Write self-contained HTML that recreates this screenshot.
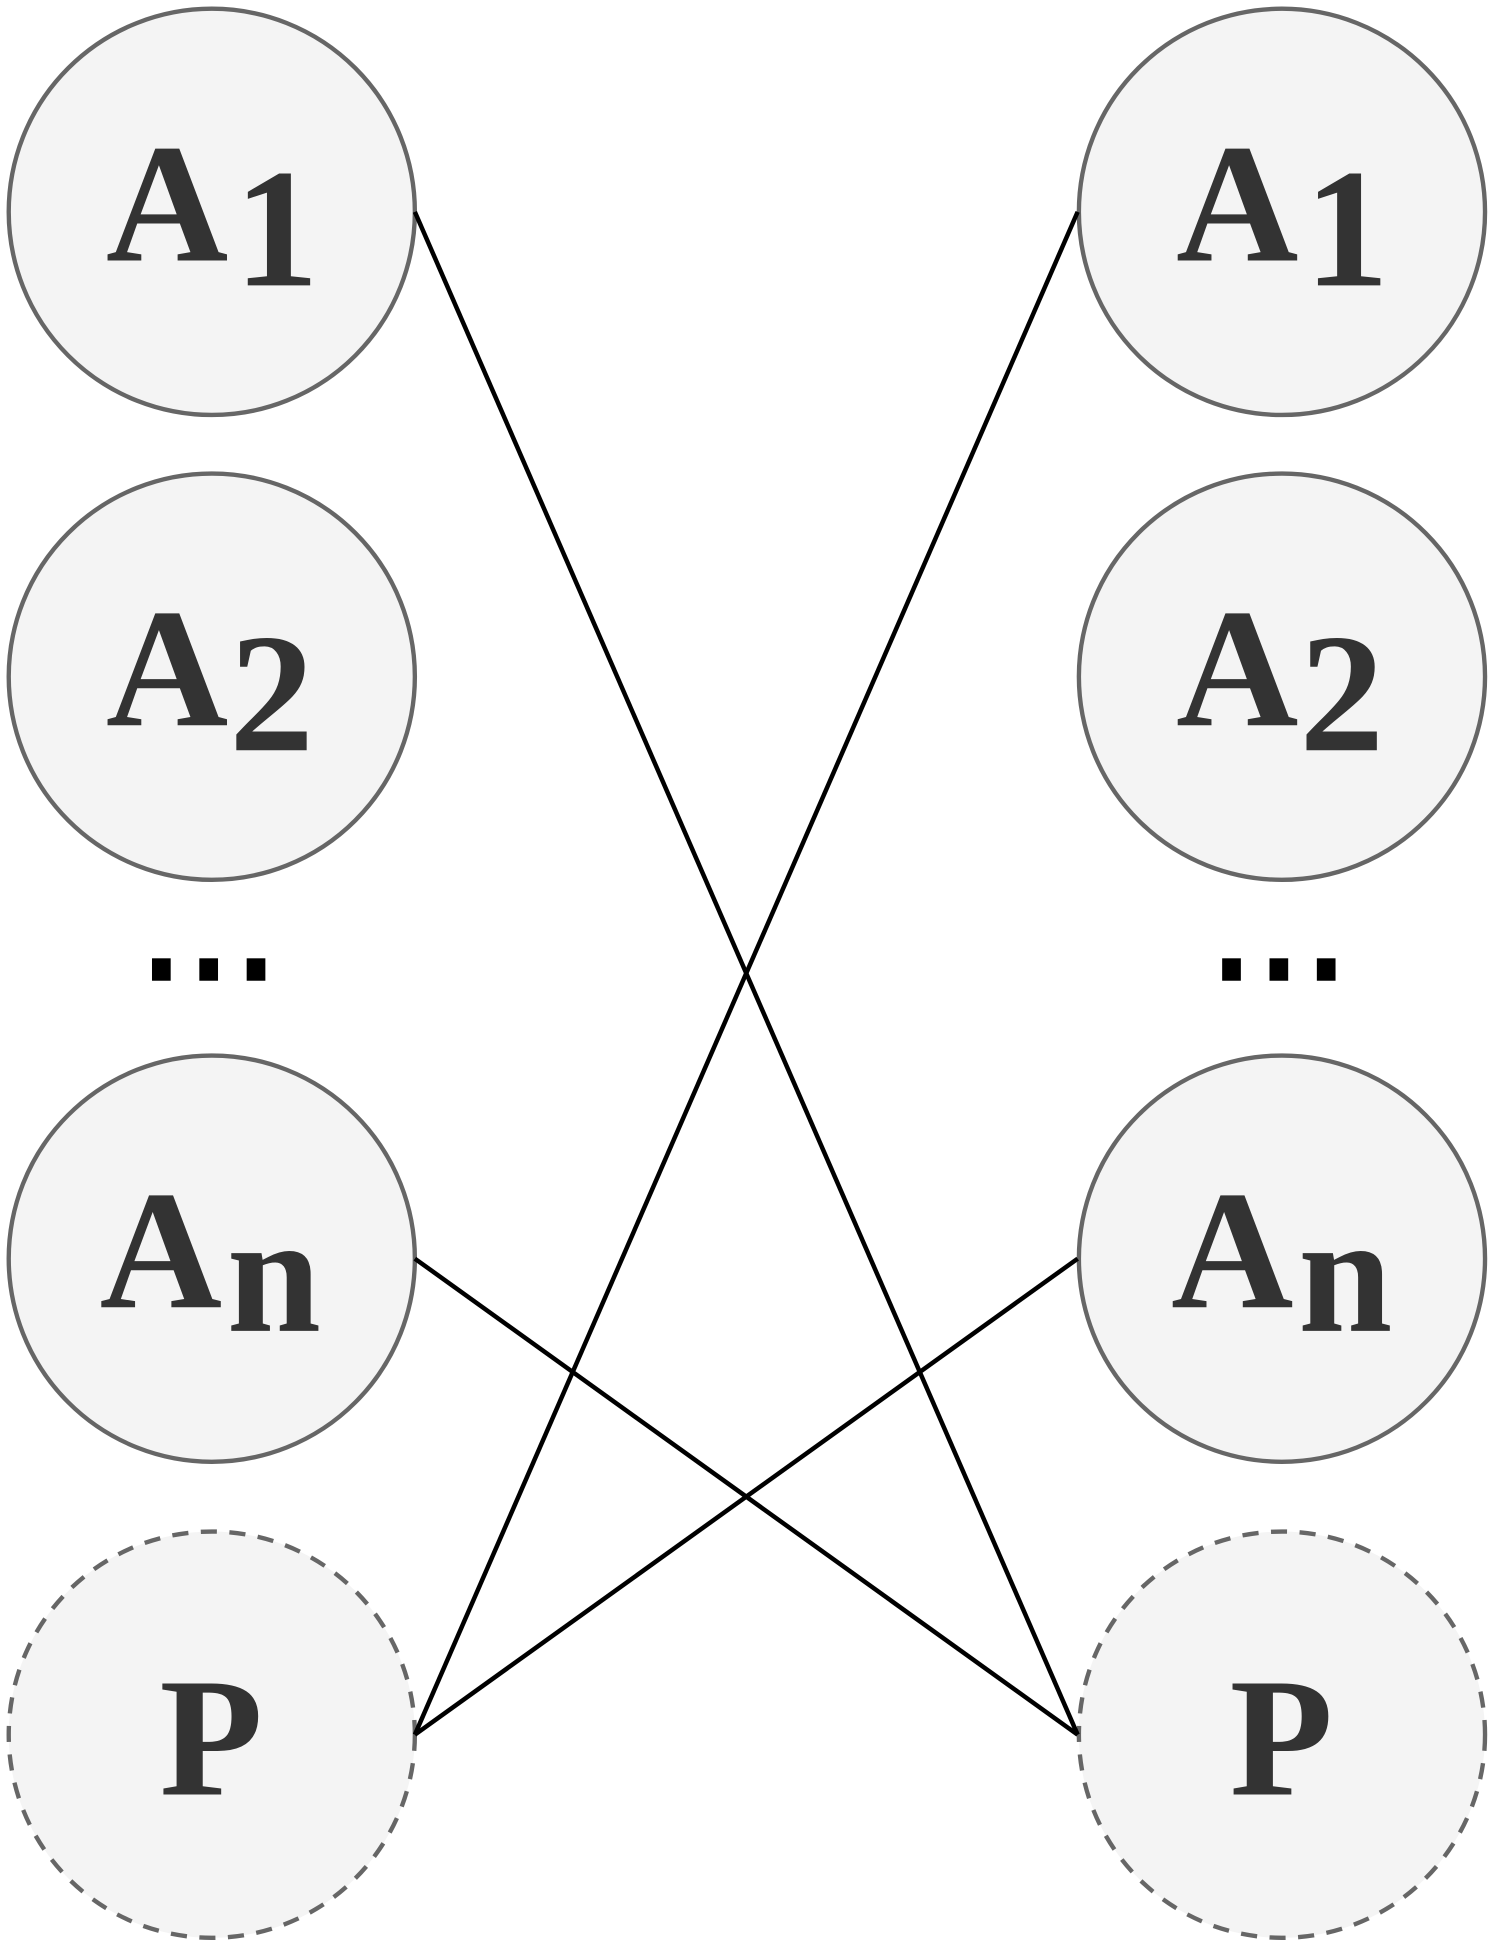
<!DOCTYPE html>
<html><head><meta charset="utf-8"><style>html,body{margin:0;padding:0;background:#fff}svg{display:block}
.t{font-family:"Liberation Serif","Times New Roman",serif;font-weight:bold;font-size:136px;fill:#333}</style></head>
<body>
<svg width="1495" height="1954" viewBox="0 0 1200 1568" preserveAspectRatio="none" xmlns="http://www.w3.org/2000/svg">
<g fill="#f4f4f4" stroke="#666" stroke-width="3.5">
<circle cx="170" cy="170" r="163"/><circle cx="1029" cy="170" r="163"/>
<circle cx="170" cy="543" r="163"/><circle cx="1029" cy="543" r="163"/>
<circle cx="170" cy="1010" r="163"/><circle cx="1029" cy="1010" r="163"/>
<circle cx="170" cy="1392" r="163" stroke-dasharray="13 10"/><circle cx="1029" cy="1392" r="163" stroke-dasharray="13 10"/>
</g>
<g stroke="#000" stroke-width="3.6">
<line x1="333" y1="170" x2="865" y2="1392"/>
<line x1="865" y1="170" x2="333" y2="1392"/>
<line x1="333" y1="1010" x2="865" y2="1392"/>
<line x1="865" y1="1010" x2="333" y2="1392"/>
</g>
<g fill="#000">
<rect x="122" y="769" width="15" height="18"/><rect x="160" y="769" width="15" height="18"/><rect x="198" y="769" width="15" height="18"/>
<rect x="981" y="769" width="15" height="18"/><rect x="1019" y="769" width="15" height="18"/><rect x="1057" y="769" width="15" height="18"/>
</g>
<g class="t">
<text x="85" y="209">A</text><text x="188" y="229">1</text>
<text x="944" y="209">A</text><text x="1047" y="229">1</text>
<text x="85" y="582">A</text><text x="184" y="602">2</text>
<text x="944" y="582">A</text><text x="1043" y="602">2</text>
<text x="80" y="1049">A</text><text x="182" y="1068">n</text>
<text x="940" y="1049">A</text><text x="1042" y="1068">n</text>
<text x="128" y="1440">P</text>
<text x="987" y="1440">P</text>
</g>
</svg>
</body></html>
